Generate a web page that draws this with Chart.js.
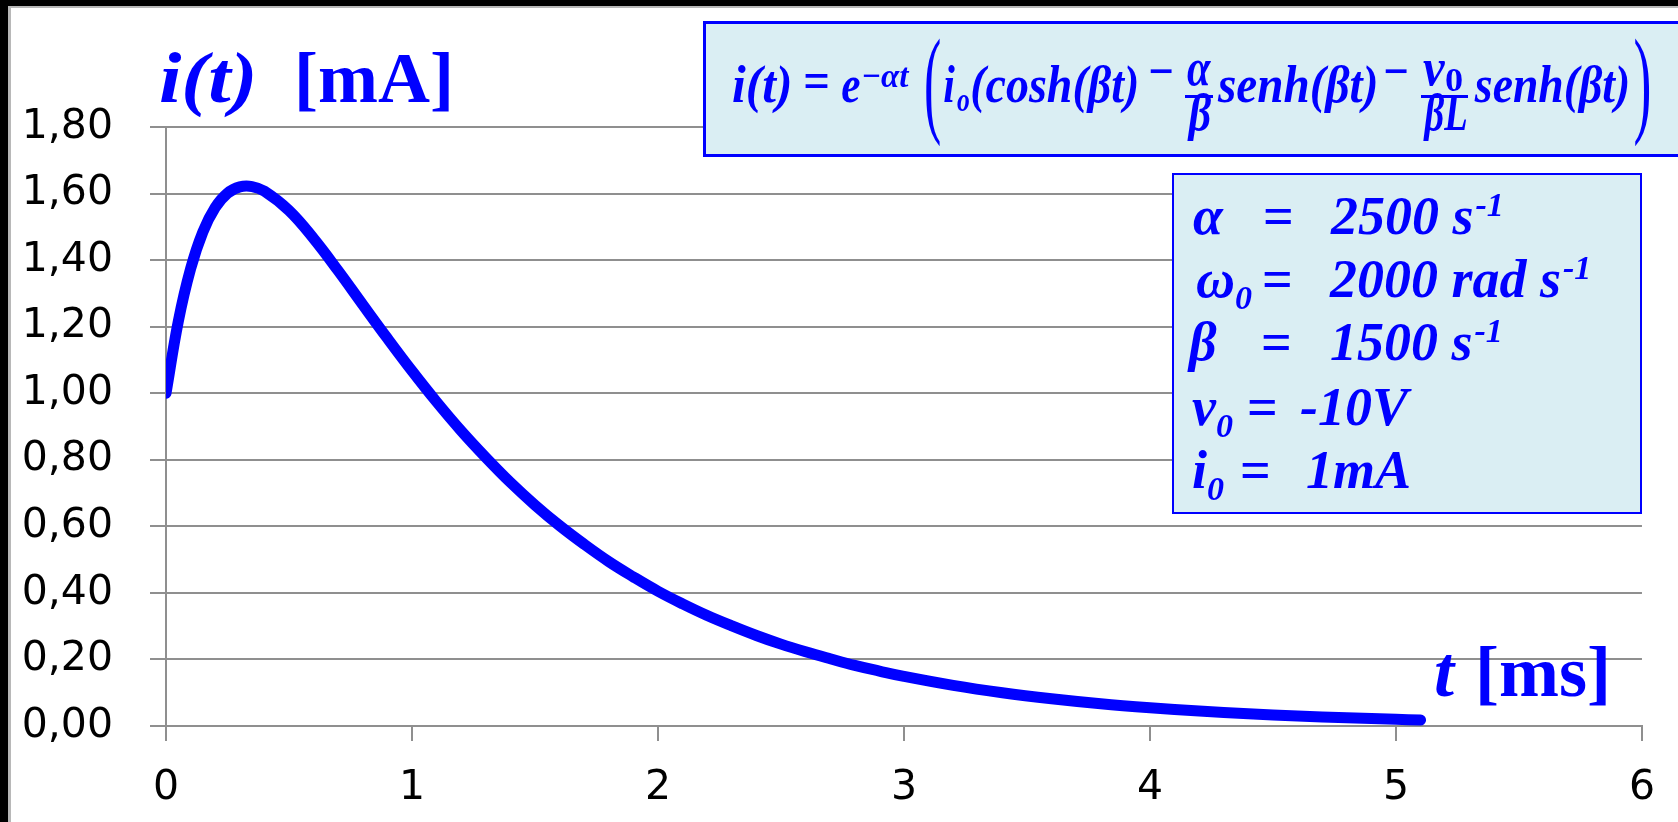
<!DOCTYPE html>
<html>
<head>
<meta charset="utf-8">
<title>i(t) [mA]</title>
<script src="https://cdn.jsdelivr.net/npm/chart.js@4"></script>
<style>
  html, body { margin: 0; padding: 0; background: #000; overflow: hidden; }
  #sheet {
    position: absolute; left: 8px; top: 6px; width: 1670px; height: 816px;
    background: #fff; border-left: 3px solid #b8b8b8; border-top: 2px solid #b8b8b8;
    box-sizing: border-box;
  }
  #plot { position: absolute; left: 0; top: 0; }
</style>
</head>
<body>
<div id="sheet"></div>
<canvas id="plot" width="1678" height="822"></canvas>
<script>
// ===== Data: current response i(t) in mA, t in ms =====
const timeMs = [0, 0.05, 0.1, 0.15, 0.2, 0.25, 0.3, 0.35, 0.4, 0.5, 0.6, 0.7, 0.8, 0.9,
  1.0, 1.1, 1.2, 1.3, 1.4, 1.5, 1.6, 1.7, 1.8, 1.9,
  2.0, 2.1, 2.2, 2.3, 2.4, 2.5, 2.6, 2.7, 2.8, 2.9,
  3.0, 3.2, 3.4, 3.6, 3.8, 4.0, 4.2, 4.4, 4.6, 4.8, 5.0, 5.1];
const currentMA = [1.000, 1.216, 1.374, 1.485, 1.558, 1.601, 1.620, 1.621, 1.607, 1.549, 1.465, 1.368, 1.266, 1.165,
  1.067, 0.974, 0.887, 0.807, 0.732, 0.664, 0.602, 0.546, 0.494, 0.448,
  0.405, 0.367, 0.332, 0.301, 0.272, 0.246, 0.223, 0.202, 0.182, 0.165,
  0.149, 0.122, 0.100, 0.082, 0.067, 0.055, 0.045, 0.037, 0.030, 0.025, 0.020, 0.018];

const xTickLabels = ['0', '1', '2', '3', '4', '5', '6'];
const yTickLabels = ['0,00', '0,20', '0,40', '0,60', '0,80', '1,00', '1,20', '1,40', '1,60', '1,80'];

// ===== Styles =====
const BLUE = '#0000ff';
const BOX_FILL = '#daeef3';
const GRID = '#8f8f8f';
const SERIF = '"Liberation Serif", "Times New Roman", serif';
const SANS = '"DejaVu Sans", Verdana, sans-serif';

function put(ctx, s, x, y, font) {
  ctx.font = font;
  ctx.fillText(s, x, y);
  return x + ctx.measureText(s).width;
}

// draw a run so its ink spans x0..x1 (stretched horizontally)
function fit(ctx, s, x0, x1, y, font) {
  ctx.font = font;
  const m = ctx.measureText(s);
  const ink = m.actualBoundingBoxLeft + m.actualBoundingBoxRight;
  ctx.save();
  ctx.translate(x0, y);
  ctx.scale((x1 - x0) / ink, 1);
  ctx.fillText(s, m.actualBoundingBoxLeft, 0);
  ctx.restore();
}

// tall thin delimiter, scaled into the box x0..x1, y0..y1
function bigParen(ctx, ch, x0, x1, y0, y1) {
  ctx.font = `100px ${SERIF}`;
  const m = ctx.measureText(ch);
  const w = m.actualBoundingBoxLeft + m.actualBoundingBoxRight;
  const h = m.actualBoundingBoxAscent + m.actualBoundingBoxDescent;
  ctx.save();
  ctx.translate(x0, y0);
  ctx.scale((x1 - x0) / w, (y1 - y0) / h);
  ctx.fillText(ch, m.actualBoundingBoxLeft, m.actualBoundingBoxAscent);
  ctx.restore();
}

function drawTitles(ctx) {
  ctx.fillStyle = BLUE;
  fit(ctx, 'i(t)', 160, 253, 102, `bold italic 72px ${SERIF}`);
  put(ctx, '[mA]', 294, 102, `bold 72px ${SERIF}`);
  put(ctx, 't', 1434, 696, `bold italic 72px ${SERIF}`);
  put(ctx, '[ms]', 1475, 696, `bold 72px ${SERIF}`);
}

function drawFormula(ctx) {
  ctx.fillStyle = BOX_FILL;
  ctx.fillRect(703, 21, 990, 136);
  ctx.strokeStyle = BLUE;
  ctx.lineWidth = 3;
  ctx.strokeRect(704.5, 22.5, 990, 133);

  ctx.fillStyle = BLUE;
  const big = `bold italic 53px ${SERIF}`;
  const small = `bold italic 34px ${SERIF}`;
  const up = `bold 53px ${SERIF}`;
  const base = 102;

  fit(ctx, 'i(t)', 733, 790, base, big);
  fit(ctx, '=', 805, 828, base - 4, up);
  fit(ctx, 'e', 842, 860, base, big);
  fit(ctx, '\u2212\u03b1t', 863, 910, 87, small);
  bigParen(ctx, '(', 926, 940, 37, 147);
  fit(ctx, 'i', 944, 955, base, big);
  fit(ctx, 'o', 957, 969, 111, small);
  fit(ctx, '(cosh(\u03b2t)', 972, 1137, base, big);
  fit(ctx, '\u2212', 1150, 1172, base - 13, up);

  // alpha over beta
  fit(ctx, '\u03b1', 1187, 1211, 85, big);
  ctx.fillRect(1185, 95, 28, 3);
  fit(ctx, '\u03b2', 1187, 1211, 130, big);
  fit(ctx, 'senh(\u03b2t)', 1217, 1376, base, big);
  fit(ctx, '\u2212', 1385, 1407, base - 13, up);

  // v0 over beta L
  fit(ctx, 'v', 1423, 1445, 85, big);
  fit(ctx, '0', 1446, 1462, 91, `bold 34px ${SERIF}`);
  ctx.fillRect(1421, 95, 47, 3);
  fit(ctx, '\u03b2L', 1423, 1466, 130, big);
  fit(ctx, 'senh(\u03b2t)', 1474, 1628, base, big);
  bigParen(ctx, ')', 1635, 1649, 37, 147);
}

function drawParams(ctx) {
  ctx.fillStyle = BOX_FILL;
  ctx.fillRect(1172, 173, 470, 341);
  ctx.strokeStyle = BLUE;
  ctx.lineWidth = 2;
  ctx.strokeRect(1173, 174, 468, 339);

  ctx.fillStyle = BLUE;
  const f = `bold italic 54px ${SERIF}`;
  const s = `bold italic 34px ${SERIF}`;
  const eq = `bold 54px ${SERIF}`;
  let x;

  put(ctx, '\u03b1', 1193, 234, f);
  put(ctx, '=', 1263, 234, eq);
  x = put(ctx, '2500 s', 1331, 234, f);
  put(ctx, '-1', x + 2, 216, s);

  x = put(ctx, '\u03c9', 1196, 297, f);
  put(ctx, '0', x, 309, s);
  put(ctx, '=', 1262, 297, eq);
  x = put(ctx, '2000 rad s', 1330, 297, f);
  put(ctx, '-1', x + 2, 279, s);

  put(ctx, '\u03b2', 1189, 360, f);
  put(ctx, '=', 1261, 360, eq);
  x = put(ctx, '1500 s', 1330, 360, f);
  put(ctx, '-1', x + 2, 342, s);

  x = put(ctx, 'v', 1192, 425, f);
  put(ctx, '0', x, 437, s);
  put(ctx, '=', 1247, 425, eq);
  put(ctx, '-10V', 1300, 425, f);

  x = put(ctx, 'i', 1192, 488, f);
  put(ctx, '0', x, 500, s);
  put(ctx, '=', 1240, 488, eq);
  put(ctx, '1mA', 1306, 488, f);
}

const overlay = {
  id: 'overlay',
  afterDraw(chart) {
    const ctx = chart.ctx;
    ctx.save();
    ctx.textBaseline = 'alphabetic';
    ctx.textAlign = 'left';
    drawFormula(ctx);
    drawParams(ctx);
    drawTitles(ctx);
    ctx.restore();
  }
};

// ===== Chart =====
const points = timeMs.map((t, i) => ({ x: t, y: currentMA[i] }));

new Chart(document.getElementById('plot').getContext('2d'), {
  type: 'line',
  data: {
    datasets: [{
      data: points,
      borderColor: BLUE,
      borderWidth: 11,
      borderCapStyle: 'round',
      borderJoinStyle: 'round',
      pointRadius: 0,
      fill: false,
      tension: 0.4
    }]
  },
  options: {
    responsive: false,
    animation: false,
    layout: { padding: { top: 127, right: 33, bottom: 0, left: 0 } },
    plugins: { legend: { display: false }, tooltip: { enabled: false } },
    scales: {
      x: {
        type: 'linear', min: 0, max: 6,
        afterFit(scale) { scale.height = 96; },
        ticks: {
          stepSize: 1, padding: 23, color: '#000',
          font: { family: SANS, size: 41 },
          callback: (v, i) => xTickLabels[i]
        },
        grid: { drawOnChartArea: false, drawTicks: true, tickLength: 15, color: GRID, lineWidth: 2 },
        border: { display: true, color: GRID, width: 2 }
      },
      y: {
        type: 'linear', min: 0, max: 1.8,
        afterFit(scale) { scale.width = 166; },
        ticks: {
          stepSize: 0.2, padding: 37, color: '#000',
          font: { family: SANS, size: 41 },
          callback: (v, i) => yTickLabels[i]
        },
        grid: { color: GRID, lineWidth: 2, tickLength: 16 },
        border: { display: true, color: GRID, width: 2 }
      }
    }
  },
  plugins: [overlay]
});
</script>
</body>
</html>
